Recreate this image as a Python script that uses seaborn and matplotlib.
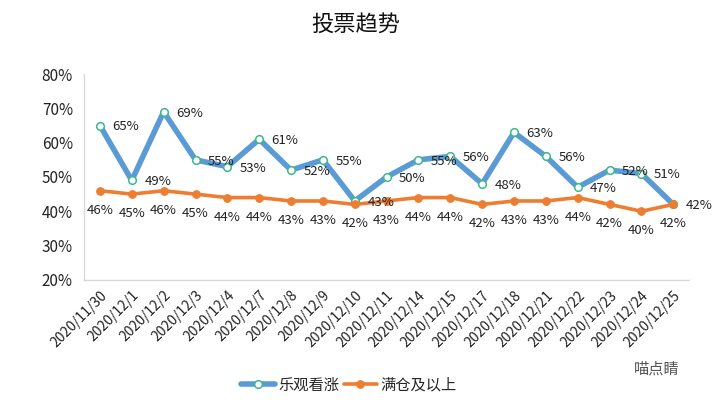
import matplotlib
matplotlib.use('Agg')
import matplotlib.pyplot as plt
import seaborn as sns
import pandas as pd

dates = ["2020/11/30", "2020/12/1", "2020/12/2", "2020/12/3", "2020/12/4", "2020/12/7",
         "2020/12/8", "2020/12/9", "2020/12/10", "2020/12/11", "2020/12/14", "2020/12/15",
         "2020/12/17", "2020/12/18", "2020/12/21", "2020/12/22", "2020/12/23", "2020/12/24",
         "2020/12/25"]
bullish = [65, 49, 69, 55, 53, 61, 52, 55, 43, 50, 55, 56, 48, 63, 56, 47, 52, 51, 42]
full_pos = [46, 45, 46, 45, 44, 44, 43, 43, 42, 43, 44, 44, 42, 43, 43, 44, 42, 40, 42]
series_names = ["乐观看涨", "满仓及以上"]

sns.set_theme(style="white")
plt.rcParams['font.family'] = ['Noto Sans CJK SC', 'DejaVu Sans']

df = pd.DataFrame({"idx": range(len(dates)), "date": dates,
                   series_names[0]: bullish, series_names[1]: full_pos})

fig = plt.figure(figsize=(7.12, 4.05), dpi=100)
ax = fig.add_axes([0.118, 0.309, 0.85, 0.508])

blue = "#5B9BD5"
orange = "#ED7D31"

# blue series first, orange drawn on top
sns.lineplot(data=df, x="idx", y=series_names[0], ax=ax, color=blue, linewidth=4,
             marker="o", markersize=6.5, markerfacecolor="white", markeredgecolor="#3DB88B",
             markeredgewidth=1.1, label=series_names[0])
sns.lineplot(data=df, x="idx", y=series_names[1], ax=ax, color=orange, linewidth=2.6,
             marker="o", markersize=7, markeredgecolor=orange, label=series_names[1])

for i, v in enumerate(bullish):
    ax.annotate(f"{v}%", (i, v), xytext=(9, -1), textcoords="offset points",
                fontsize=9.5, color="#222222", va="center", ha="left")
for i, v in enumerate(full_pos):
    ax.annotate(f"{v}%", (i, v), xytext=(0, -14), textcoords="offset points",
                fontsize=9.5, color="#222222", va="center", ha="center")

ax.set_xlim(-0.5, len(dates) - 0.5)
ax.set_ylim(20, 80)
ax.set_yticks(range(20, 81, 10))
ax.set_yticklabels([f"{t}%" for t in range(20, 81, 10)], fontsize=11, color="#222222")
ax.set_xticks(range(len(dates)))
ax.set_xticklabels(dates, rotation=45, ha="right", rotation_mode="anchor", fontsize=10,
                   color="#222222")
ax.set_xlabel("")
ax.set_ylabel("")
ax.tick_params(axis="y", length=4, color="#d9d9d9", width=1, pad=4)
ax.tick_params(axis="x", length=0, pad=6)
for s in ["top", "right"]:
    ax.spines[s].set_visible(False)
for s in ["left", "bottom"]:
    ax.spines[s].set_color("#d9d9d9")
    ax.spines[s].set_linewidth(1)

handles, labels = ax.get_legend_handles_labels()
ax.get_legend().remove()
for h in handles:
    h.set_markersize(5.5)
fig.legend(handles, labels, loc="center", bbox_to_anchor=(0.49, 0.05),
           ncol=2, frameon=False, fontsize=11, handlelength=2.2, handletextpad=0.2,
           columnspacing=0.3)

fig.text(0.5, 0.94, "投票趋势", ha="center", va="center", fontsize=16, color="#111111")
fig.text(0.955, 0.09, "喵点睛", ha="right", va="center", fontsize=11, color="#555555")

fig.savefig("out.png", dpi=100)
